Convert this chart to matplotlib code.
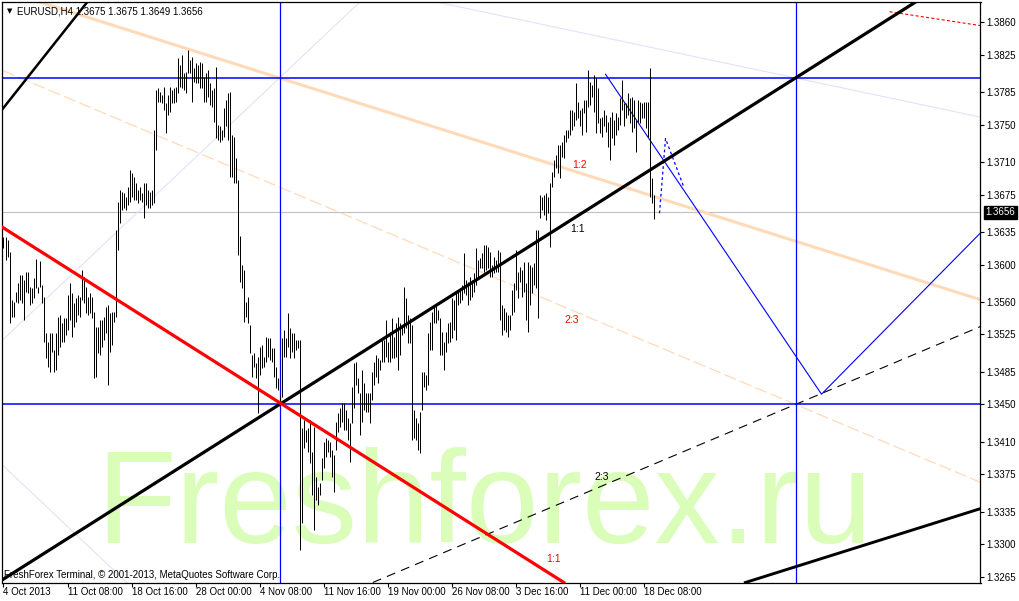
#==============================================================================
# IMPORTING LIBRARIES
#==============================================================================
import matplotlib
matplotlib.use("Agg")
import matplotlib.pyplot as plt
import matplotlib.transforms as mtransforms

#==============================================================================
# DATA
#==============================================================================
symbol_text = "EURUSD,H4 1.3675 1.3675 1.3649 1.3656"
copyright_text = "FreshForex Terminal, \u00a9 2001-2013, MetaQuotes Software Corp."
last_price = 1.3656

# H4 bars, high / low in pips above 1.3000
high_pips = [
    630, 630, 626, 613, 562, 560, 571, 580, 589, 589,
    583, 592, 592, 576, 575, 586, 606, 576, 604, 578,
    565, 527, 517, 527, 527, 508, 527, 544, 546, 537,
    543, 543, 567, 580, 570, 559, 564, 567, 565, 594,
    587, 576, 565, 570, 565, 549, 533, 533, 541, 541,
    544, 554, 557, 548, 549, 549, 637, 667, 680, 678,
    677, 672, 683, 701, 698, 694, 687, 680, 683, 677,
    687, 687, 680, 678, 680, 744, 787, 789, 785, 782,
    790, 773, 782, 790, 787, 789, 790, 821, 814, 825,
    805, 806, 830, 819, 822, 811, 816, 814, 817, 816,
    801, 805, 809, 795, 787, 789, 812, 750, 748, 744,
    768, 776, 784, 785, 739, 737, 714, 691, 631, 600,
    594, 560, 565, 535, 503, 505, 494, 501, 512, 514,
    501, 522, 521, 521, 510, 510, 490, 478, 460, 521,
    530, 521, 548, 532, 527, 527, 519, 519, 519, 425,
    433, 423, 425, 433, 399, 426, 372, 362, 366, 393,
    410, 414, 412, 410, 401, 396, 431, 441, 446, 452,
    452, 444, 436, 430, 469, 494, 496, 478, 462, 487,
    473, 462, 462, 462, 485, 496, 503, 500, 498, 519,
    519, 541, 517, 528, 543, 522, 537, 544, 537, 535,
    576, 564, 546, 543, 535, 444, 436, 430, 442, 485,
    485, 482, 527, 538, 549, 554, 557, 551, 543, 528,
    517, 528, 537, 538, 564, 562, 570, 571, 575, 578,
    612, 583, 581, 587, 583, 591, 618, 605, 607, 612,
    621, 621, 619, 613, 600, 608, 605, 616, 613, 557,
    553, 549, 546, 546, 573, 580, 616, 592, 597, 594,
    603, 580, 603, 600, 597, 602, 637, 637, 675, 672,
    675, 677, 672, 687, 699, 712, 717, 728, 728, 731,
    739, 744, 744, 766, 766, 764, 795, 774, 766, 768,
    776, 776, 809, 796, 792, 803, 800, 789, 757, 758,
    766, 760, 753, 758, 764, 755, 762, 758, 779, 798,
    773, 773, 784, 779, 780, 776, 755, 776, 774, 773,
    774, 774, 774, 811, 693, 675]
low_pips = [
    618, 605, 608, 537, 544, 544, 560, 559, 562, 559,
    541, 571, 570, 557, 559, 564, 575, 570, 576, 559,
    517, 500, 490, 485, 506, 485, 487, 503, 512, 517,
    517, 524, 530, 541, 522, 533, 538, 546, 544, 562,
    559, 548, 546, 548, 543, 478, 479, 505, 503, 512,
    519, 527, 471, 506, 514, 538, 544, 616, 644, 658,
    661, 658, 664, 667, 672, 669, 669, 666, 669, 667,
    650, 664, 661, 661, 664, 666, 723, 774, 774, 773,
    766, 741, 760, 764, 773, 773, 774, 784, 790, 789,
    787, 784, 805, 805, 774, 796, 795, 795, 789, 789,
    774, 774, 780, 771, 769, 753, 736, 734, 731, 734,
    737, 748, 734, 694, 694, 687, 687, 610, 581, 575,
    538, 544, 537, 505, 479, 490, 478, 441, 482, 489,
    490, 496, 501, 498, 496, 479, 468, 466, 452, 458,
    501, 501, 512, 500, 506, 500, 508, 510, 294, 323,
    403, 410, 399, 387, 353, 315, 348, 342, 353, 369,
    382, 394, 399, 394, 372, 356, 401, 420, 426, 431,
    423, 423, 412, 388, 430, 446, 471, 462, 417, 431,
    444, 442, 442, 430, 455, 471, 479, 473, 487, 496,
    495, 501, 495, 495, 500, 500, 501, 487, 503, 524,
    527, 532, 516, 516, 412, 414, 412, 401, 398, 444,
    469, 466, 471, 508, 508, 537, 537, 541, 503, 503,
    487, 506, 516, 517, 521, 530, 519, 557, 559, 562,
    570, 567, 557, 562, 565, 571, 578, 587, 596, 596,
    592, 594, 596, 587, 587, 591, 592, 592, 541, 524,
    530, 528, 522, 530, 546, 549, 573, 564, 581, 565,
    571, 541, 528, 557, 570, 578, 575, 543, 650, 658,
    653, 648, 655, 619, 683, 694, 704, 698, 693, 715,
    714, 731, 736, 739, 744, 748, 755, 757, 748, 739,
    762, 742, 769, 771, 780, 764, 741, 752, 741, 737,
    748, 742, 726, 712, 736, 728, 739, 744, 750, 766,
    748, 757, 760, 752, 742, 746, 721, 753, 752, 757,
    757, 746, 737, 672, 666, 649]

# time axis (bar index of each date label)
date_idx = [0, 32, 64, 96, 128, 160, 192, 224, 256, 288, 320]
date_labels = ["4 Oct 2013", "11 Oct 08:00", "18 Oct 16:00", "28 Oct 00:00",
               "4 Nov 08:00", "11 Nov 16:00", "19 Nov 00:00", "26 Nov 08:00",
               "3 Dec 16:00", "11 Dec 00:00", "18 Dec 08:00"]
price_ticks = [1.3860, 1.3825, 1.3785, 1.3750, 1.3710, 1.3675, 1.3635, 1.3600,
               1.3560, 1.3525, 1.3485, 1.3450, 1.3410, 1.3375, 1.3335, 1.3300,
               1.3265]

# chart objects (anchors as bar index, price)
h_levels = [1.3800, 1.3450]
v_bars = [138, 396]
main_11 = [(138, 1.3450), (396, 1.3800)]
red_11 = [(138, 1.3452), (396, 1.3102)]
peach_12 = [(138, 1.3800), (396, 1.3625)]
peach_23 = [(138, 1.3683), (396, 1.3450)]
black_23 = [(138, 1.3217), (396, 1.3450)]
lav_32 = [(0, 1.3520), (138, 1.3800)]
lav_13 = [(138, 1.3917), (396, 1.3800)]
lav_low = [(0, 1.3384), (39, 1.3305)]
black_steep = [(0, 1.3768), (41, 1.3879)]
black_low = [(396, 1.3276), (488, 1.3338)]
red_dot_x = [443, 489]
red_dot_y = [1.3871, 1.3856]
proj_x = [301, 409, 489]
proj_y = [1.3804, 1.3461, 1.3635]
zig_x = [328, 331, 340]
zig_y = [1.3655, 1.3735, 1.3684]

ratio_labels = ["1:2", "1:1", "2:3", "2:3", "1:1"]
ratio_x = [288, 287, 284, 299, 275]
ratio_y = [1.3707, 1.3638, 1.3540, 1.3372, 1.3284]
ratio_col = ["red", "black", "red", "black", "red"]

#==============================================================================
# GENERAL PARAMETERS OF PLOT
#==============================================================================
plt.rcParams['font.family'] = ['Liberation Sans', 'DejaVu Sans']
plt.rcParams['lines.scale_dashes'] = False
BLUE = '#0000FF'
PEACH = '#FFDAB9'
LAV = '#E2E2FA'

W, H = 1020, 601
fig = plt.figure(figsize=(W/100., H/100.), dpi=100)
fig.patch.set_facecolor('white')
ax = fig.add_axes([2.5/W, (H-582.5)/H, 978./W, 580.5/H])
ax.set_xlim(-0.5, 488.5)          # 2 px per H4 bar
ax.set_ylim(1.325912, 1.388144)

#==============================================================================
# WATERMARK
#==============================================================================
ax.text(0.0959, 0.068, "Freshforex.ru", transform=ax.transAxes, fontsize=94,
        color='#DAFDB9', ha='left', va='baseline', zorder=0,
        family='Liberation Sans')

#==============================================================================
# THIN OBJECTS
#==============================================================================
ax.axhline(last_price, color='#C0C0C0', lw=0.8, zorder=1)
ax.axline(*lav_32, color=LAV, lw=0.8, zorder=1)
ax.axline(*lav_13, color=LAV, lw=0.8, zorder=1)
ax.axline(*lav_low, color=LAV, lw=0.8, zorder=1)
ax.axline(*peach_12, color=PEACH, lw=2.2, zorder=1)
ax.axline(*peach_23, color=PEACH, lw=0.9, dashes=(9, 3), zorder=1)
ax.axline(*black_23, color='black', lw=0.8, dashes=(6.5, 4.5), zorder=2)
for lev in h_levels:
    ax.axhline(lev, color=BLUE, lw=1.1, zorder=2)
for vb in v_bars:
    ax.axvline(vb, color=BLUE, lw=0.9, zorder=2)
ax.plot(red_dot_x, red_dot_y, color='red', lw=0.8, dashes=(2.2, 1.6), zorder=2)
ax.plot(proj_x, proj_y, color=BLUE, lw=0.8, zorder=2)
ax.plot(zig_x, zig_y, color=BLUE, lw=0.9, dashes=(2, 2), zorder=2)

#==============================================================================
# BARS
#==============================================================================
highs = [1.3 + v/10000. for v in high_pips]
lows = [1.3 + v/10000. for v in low_pips]
ax.vlines(range(len(highs)), lows, highs, colors='black', lw=0.72, zorder=3)

#==============================================================================
# THICK TREND LINES
#==============================================================================
ax.axline(*main_11, color='black', lw=2.3, zorder=4)
ax.axline(*red_11, color='red', lw=2.3, zorder=4)
ax.axline(*black_steep, color='black', lw=1.8, zorder=4)
ax.axline(*black_low, color='black', lw=2.1, zorder=4)

for t, x, y, c in zip(ratio_labels, ratio_x, ratio_y, ratio_col):
    ax.text(x, y, t, color=c, fontsize=7.5, ha='center', va='center', zorder=5)

#==============================================================================
# AXES
#==============================================================================
for s in ax.spines.values():
    s.set_linewidth(0.9)
    s.set_color('black')
ax.yaxis.tick_right()
ax.set_yticks(price_ticks)
ax.set_yticklabels(["%.4f" % p for p in price_ticks])
ax.set_xticks(date_idx)
ax.set_xticklabels(date_labels)
for lab in ax.get_xticklabels():
    lab.set_ha('left')
ax.tick_params(axis='y', direction='out', length=2.9, width=0.8, pad=1.4,
               labelsize=7)
ax.tick_params(axis='x', direction='out', length=2.9, width=0.8, pad=0.6,
               labelsize=7)

# current price box
trans = mtransforms.blended_transform_factory(ax.transAxes, ax.transData)
ax.text(1.0051, last_price, "%.4f" % last_price, transform=trans, color='white',
        fontsize=7, ha='left', va='center', zorder=6, clip_on=False,
        bbox=dict(boxstyle='square,pad=0.15', fc='black', ec='black'))

# header and footer texts
fig.text(7./W, 1 - 11./H, "\u25bc", fontsize=5, va='center', family='DejaVu Sans')
fig.text(17./W, 1 - 11./H, symbol_text, fontsize=7, va='center')
fig.text(4./W, 1 - 575./H, copyright_text, fontsize=7, va='center')

fig.savefig("out.png", dpi=100)
